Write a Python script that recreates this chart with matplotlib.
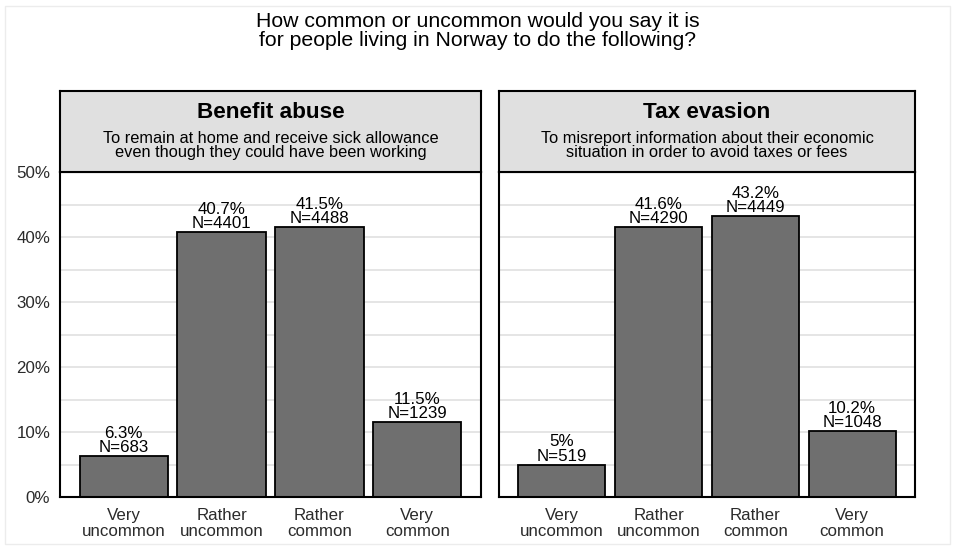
import matplotlib.pyplot as plt
from matplotlib.patches import Rectangle

plt.rcParams['font.family'] = ['Liberation Sans', 'DejaVu Sans']

# survey answers per facet
categories = ["Very\nuncommon", "Rather\nuncommon", "Rather\ncommon", "Very\ncommon"]
facet_titles = ["Benefit abuse", "Tax evasion"]
facet_subtitles = [
    "To remain at home and receive sick allowance\neven though they could have been working",
    "To misreport information about their economic\nsituation in order to avoid taxes or fees",
]
benefit_pct = [6.3, 40.7, 41.5, 11.5]
benefit_n = [683, 4401, 4488, 1239]
tax_pct = [5, 41.6, 43.2, 10.2]
tax_n = [519, 4290, 4449, 1048]

W, H = 955, 550
fig = plt.figure(figsize=(W / 100, H / 100), dpi=100)


def px_axes(x0, y0, x1, y1):
    # pixel box (top-left origin) -> figure axes
    return fig.add_axes([x0 / W, 1 - y1 / H, (x1 - x0) / W, (y1 - y0) / H])


# thin frame round the whole figure
fig.patches.append(Rectangle((5 / W, 6 / H), (W - 10) / W, (H - 12) / H,
                             transform=fig.transFigure, fill=False,
                             edgecolor="#ececec", linewidth=1))

fig.text(0.5, 1 - 31 / H, "How common or uncommon would you say it is\nfor people living in Norway to do the following?",
         ha="center", va="center", fontsize=15.3, linespacing=0.98)

panels = [(60, 481), (499, 915)]
data = [(benefit_pct, benefit_n), (tax_pct, tax_n)]
x = [1, 2, 3, 4]

for i, ((x0, x1), (pct, n)) in enumerate(zip(panels, data)):
    ax = px_axes(x0, 172, x1, 497)
    for g in range(0, 55, 5):
        ax.axhline(g, color="#e3e3e3", linewidth=1.3, zorder=0)
    ax.bar(x, pct, width=0.9, color="#6f6f6f", edgecolor="black", linewidth=1.3, zorder=2)
    for xi, v, k in zip(x, pct, n):
        ax.text(xi, v + 0.15, f"{v:g}%\nN={k}", ha="center", va="bottom",
                fontsize=12.2, linespacing=0.92, zorder=3)
    ax.set_xlim(0.35, 4.65)
    ax.set_ylim(0, 50)
    ax.set_xticks(x)
    ax.set_xticklabels(categories, fontsize=12.2, color="#2b2b2b", linespacing=1.05)
    ax.set_yticks(range(0, 60, 10))
    if i == 0:
        ax.set_yticklabels([f"{t}%" for t in range(0, 60, 10)], fontsize=12.2, color="#2b2b2b")
    else:
        ax.set_yticklabels([])
    ax.tick_params(axis="x", length=0, pad=8)
    ax.tick_params(axis="y", length=0, pad=7)
    for s in ax.spines.values():
        s.set_linewidth(1.5)
        s.set_color("black")

    # facet strip
    st = px_axes(x0, 91, x1, 172)
    st.set_facecolor("#e0e0e0")
    st.set_xticks([])
    st.set_yticks([])
    for s in st.spines.values():
        s.set_linewidth(1.5)
        s.set_color("black")
    st.text(0.5, 0.73, facet_titles[i], ha="center", va="center",
            fontsize=16.2, fontweight="bold", transform=st.transAxes)
    st.text(0.5, 0.33, facet_subtitles[i], ha="center", va="center",
            fontsize=11.8, linespacing=0.95, transform=st.transAxes)

fig.savefig("out.png", dpi=100)
